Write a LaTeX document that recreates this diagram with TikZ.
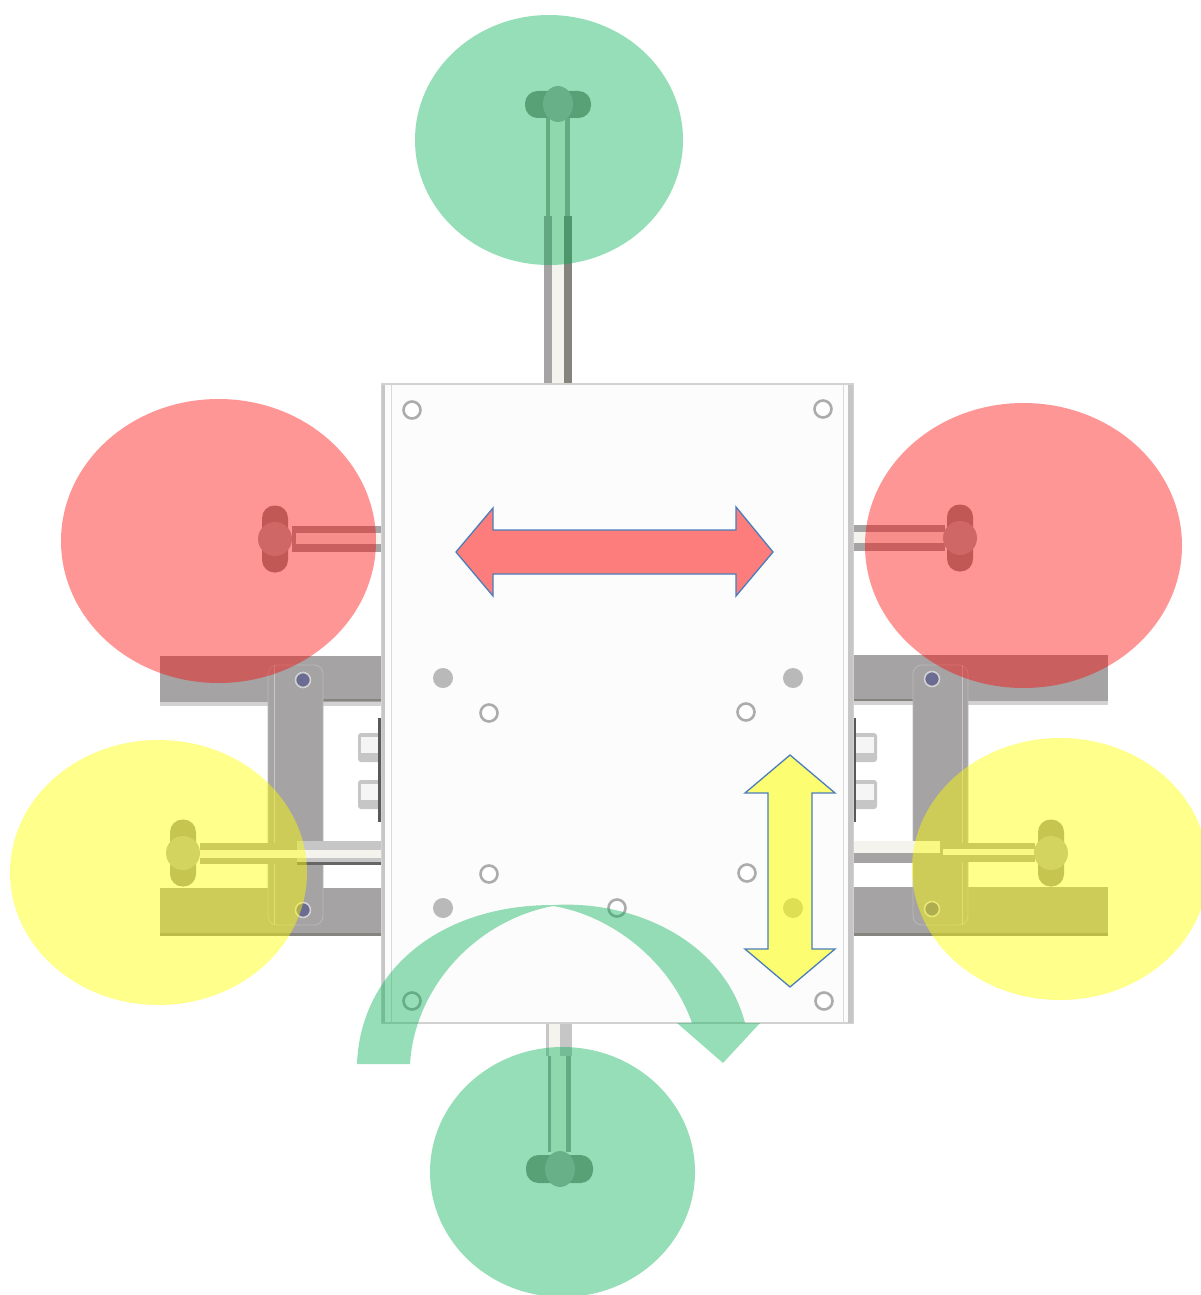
\documentclass[tikz,border=0pt]{standalone}
\definecolor{steel}{HTML}{A5A3A3}
\definecolor{steeldark}{HTML}{85847F}
\definecolor{pipelight}{HTML}{F4F3EE}
\definecolor{zonegreen}{HTML}{00B050}
\definecolor{zoneyellow}{HTML}{FFFF00}
\definecolor{outlineblue}{HTML}{4A7EBB}
\newcommand{\knobsideways}[2]{% x of the outer band edge, y centre
  \fill[knob] (#1-4,#2-33.5) rectangle ++(-26,67);
  \fill[knobband] (#1-17,#2) ellipse [x radius=17, y radius=17];
}
\begin{document}
\begin{tikzpicture}[
        x=1pt, y=-1pt,
        bar/.style={fill=steel, draw=none},
        bracket/.style={fill=steel, draw=gray!55, rounded corners=9pt, line width=0.8pt},
        pipe/.style={fill=pipelight, draw=none},
        pipeedge/.style={fill=steeldark!70, draw=none},
        knob/.style={fill=steeldark!85, rounded corners=12.5pt},
        knobband/.style={fill=gray!62},
        hole/.style={draw=gray!65, line width=2.6pt, fill=white},
        stud/.style={fill=gray!55},
        screw/.style={draw=gray!35, line width=1.6pt, fill=gray!85!blue},
        redzone/.style={fill=red, fill opacity=0.41},
        yellowzone/.style={fill=zoneyellow, fill opacity=0.45},
        greenzone/.style={fill=zonegreen, fill opacity=0.41},
        movearrow/.style={draw=outlineblue, line width=1.3pt, line join=miter}
        ]
        \useasboundingbox (0,0) rectangle (1200,1295);

        % Cross bars
        \fill[bar] (160,656) rectangle (383,705);
        \fill[bar] (160,888) rectangle (383,936);
        \fill[bar] (853,655) rectangle (1108,704);
        \fill[bar] (853,887) rectangle (1108,936);
        \fill[gray!35] (160,702) rectangle (383,706);
        \fill[gray!35] (853,701) rectangle (1108,705);
        \fill[steeldark] (323,699) rectangle (383,701);
        \fill[steeldark] (853,699) rectangle (913,701);
        \fill[steeldark] (160,933) rectangle (383,936);
        \fill[steeldark] (853,933) rectangle (1108,936);

        % Brackets
        \draw[bracket] (268,665) rectangle (323,925);
        \draw[bracket] (913,665) rectangle (968,925);
        \draw[gray!45, line width=1pt] (274,665) -- (274,925);
        \draw[gray!45, line width=1pt] (962,665) -- (962,925);
        \foreach \sx/\sy in {303/680, 303/910, 932/679, 932/909}
            \draw[screw] (\sx,\sy) circle (7.5);

        % Bolts beside the plate
        \foreach \by in {733,780} {
            \fill[gray!45, rounded corners=3pt] (358,\by) rectangle (381,\by+29);
            \fill[gray!8] (361,\by+4) rectangle (381,\by+20);
            \fill[gray!45, rounded corners=3pt] (853,\by) rectangle (877,\by+29);
            \fill[gray!8] (853,\by+4) rectangle (874,\by+20);
        }
        \fill[black!65] (378,718) rectangle (381,822);
        \fill[black!65] (853,718) rectangle (856,822);

        % Rods
        \fill[steel] (544,216) rectangle (552,383);
        \fill[steeldark] (564,216) rectangle (572,383);
        \fill[pipe] (552,216) rectangle (564,383);
        \fill[pipeedge] (546,118) rectangle (570,216);
        \fill[pipe] (550,118) rectangle (565,216);
        \fill[gray!45] (546,1023) rectangle (572,1056);
        \fill[pipe] (549,1023) rectangle (560,1056);
        \fill[pipeedge] (548,1056) rectangle (571,1152);
        \fill[pipe] (551,1056) rectangle (566,1152);
        \fill[steel] (292,526) rectangle (381,552);
        \fill[pipe] (296,533) rectangle (381,544);
        \fill[steel] (853,525) rectangle (945,551);
        \fill[pipe] (853,532) rectangle (945,543);
        \fill[gray!45] (297,841) rectangle (383,865);
        \fill[pipe] (200,850) rectangle (383,858);
        \fill[black!60] (297,862) rectangle (383,865);
        \fill[steel] (200,843) rectangle (297,850);
        \fill[steel] (200,858) rectangle (297,864);
        \fill[pipe] (853,841) rectangle (940,853);
        \fill[steel] (853,853) rectangle (940,863);
        \fill[steel] (940,843) rectangle (1035,862);
        \fill[pipe] (943,849) rectangle (1035,855);

        % Knobs
        \knobsideways{292}{539}
        \knobsideways{977}{538}
        \knobsideways{200}{853}
        \knobsideways{1068}{853}
        \fill[knob] (525,91) rectangle (591,118);
        \fill[knobband] (558,104) ellipse [x radius=15, y radius=18];
        \fill[knob] (526,1155) rectangle (593,1183);
        \fill[knobband] (560,1169) ellipse [x radius=15, y radius=18];

        % Plate
        \draw[gray!35, fill=white!99!black, line width=1.4pt] (382,384) rectangle (853,1023);
        \draw[gray!30, line width=1pt] (391,385) -- (391,1023);
        \draw[gray!30, line width=1pt] (843,385) -- (843,1023);
        \fill[gray!45] (382,385) rectangle (385,1023);
        \fill[gray!45] (848,385) rectangle (853,1023);
        \foreach \hx/\hy in {412/410, 823/409, 489/713, 746/712, 489/874, 747/873, 617/908, 412/1001, 824/1001}
            \draw[hole] (\hx,\hy) circle (8.5);
        \foreach \dx/\dy in {443/678, 793/678, 443/908, 793/908}
            \fill[stud] (\dx,\dy) circle (10);

        % Coloured zones
        \fill[greenzone] (549,140) ellipse [x radius=134, y radius=125];
        \fill[greenzone] (562.5,1172) ellipse [x radius=132.5, y radius=125];
        \fill[redzone] (218.5,541) ellipse [x radius=157.5, y radius=142];
        \fill[redzone] (1023.5,545.5) ellipse [x radius=158.5, y radius=142.5];
        \fill[yellowzone] (158.5,872.5) ellipse [x radius=148.5, y radius=132.5];
        \fill[yellowzone] (1060,869) ellipse [x radius=148, y radius=131];

        % Motion arrows
        \path[movearrow, fill=red, fill opacity=0.5] (456,552) -- (493,508) -- (493,530) -- (736,530)
            -- (736,507) -- (773,552) -- (736,596) -- (736,574) -- (493,574) -- (493,596) -- cycle;
        \path[movearrow, fill=zoneyellow, fill opacity=0.55] (790,755) -- (835,793) -- (812,793) -- (812,949)
            -- (835,949) -- (790,987) -- (745,949) -- (768,949) -- (768,793) -- (745,793) -- cycle;
        \fill[greenzone] (357,1064) .. controls (360,975) and (435,905) .. (553,905)
            .. controls (640,900) and (725,945) .. (745,1023)
            -- (760,1023) -- (723,1063) -- (677,1023) -- (692,1023)
            .. controls (670,960) and (610,915) .. (553,906)
            .. controls (478,920) and (415,985) .. (410,1064) -- cycle;
    \end{tikzpicture}
\end{document}
